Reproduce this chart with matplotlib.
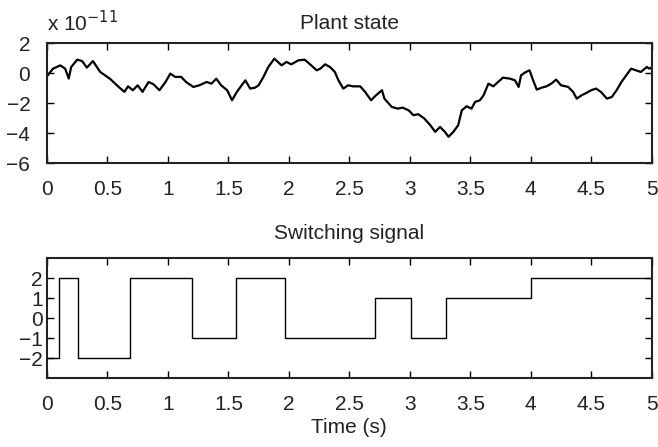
import matplotlib
matplotlib.use('Agg')
import matplotlib.pyplot as plt

plt.rcParams['font.family'] = ['Liberation Sans', 'DejaVu Sans']

# plant state (units of 1e-11)
t_state = [0.00, 0.05, 0.11, 0.15, 0.18, 0.20, 0.25, 0.29, 0.33, 0.38,
           0.44, 0.52, 0.60, 0.64, 0.67, 0.71, 0.75, 0.79, 0.84, 0.88,
           0.93, 0.98, 1.02, 1.06, 1.11, 1.15, 1.21, 1.26, 1.32, 1.36,
           1.40, 1.44, 1.49, 1.53, 1.57, 1.61, 1.64, 1.68, 1.72, 1.75,
           1.79, 1.83, 1.88, 1.94, 1.98, 2.02, 2.08, 2.13, 2.17, 2.23,
           2.26, 2.30, 2.34, 2.38, 2.41, 2.45, 2.49, 2.53, 2.59, 2.63,
           2.68, 2.72, 2.77, 2.79, 2.85, 2.90, 2.94, 2.99, 3.03, 3.07,
           3.12, 3.17, 3.21, 3.25, 3.29, 3.32, 3.36, 3.40, 3.43, 3.47,
           3.51, 3.54, 3.58, 3.61, 3.65, 3.69, 3.73, 3.77, 3.83, 3.87,
           3.90, 3.92, 3.96, 3.99, 4.02, 4.05, 4.09, 4.13, 4.17, 4.21,
           4.25, 4.31, 4.35, 4.38, 4.42, 4.46, 4.50, 4.54, 4.58, 4.63,
           4.67, 4.71, 4.75, 4.79, 4.83, 4.87, 4.91, 4.96, 4.98, 5.00]
x_state = [-0.20, 0.31, 0.53, 0.31, -0.35, 0.42, 0.91, 0.82, 0.38, 0.82,
           0.09, -0.36, -0.96, -1.24, -0.87, -1.13, -0.80, -1.24, -0.58, -0.73,
           -1.13, -0.58, -0.02, -0.24, -0.24, -0.58, -0.91, -0.80, -0.58, -0.69,
           -0.36, -0.80, -1.13, -1.80, -1.24, -0.80, -0.47, -1.02, -0.96, -0.80,
           -0.24, 0.42, 0.98, 0.53, 0.76, 0.60, 0.87, 0.91, 0.64, 0.20,
           0.31, 0.60, 0.42, 0.09, -0.47, -1.02, -0.80, -0.87, -0.87, -1.24,
           -1.80, -1.47, -1.13, -1.69, -2.24, -2.36, -2.29, -2.47, -2.80, -2.73,
           -3.02, -3.47, -3.91, -3.58, -3.91, -4.24, -3.91, -3.47, -2.47, -2.20,
           -2.36, -1.91, -1.80, -1.47, -0.69, -0.87, -0.58, -0.29, -0.36, -0.47,
           -0.91, -0.13, 0.09, 0.20, -0.47, -1.09, -0.96, -0.87, -0.69, -0.42,
           -0.80, -0.91, -1.24, -1.69, -1.47, -1.31, -1.13, -1.02, -1.24, -1.69,
           -1.58, -1.13, -0.58, -0.13, 0.31, 0.20, 0.09, 0.42, 0.31, 0.40]

# switching signal: switch times and mode values
t_switch = [0.0, 0.10, 0.26, 0.69, 1.20, 1.56, 1.97, 2.71, 3.01, 3.30, 4.00, 5.0]
mode = [-2, 2, -2, 2, -1, 2, -1, 1, -1, 1, 2, 2]

xt = [0, 0.5, 1, 1.5, 2, 2.5, 3, 3.5, 4, 4.5, 5]
xt_labels = ['0', '0.5', '1', '1.5', '2', '2.5', '3', '3.5', '4', '4.5', '5']

fig = plt.figure(figsize=(6.58, 4.47), dpi=100)
ax1 = fig.add_axes([0.0714, 0.635, 0.919, 0.268])
ax2 = fig.add_axes([0.0714, 0.154, 0.919, 0.268])

ax1.plot(t_state, x_state, color='black', lw=1.6)
ax1.set_xlim(0, 5)
ax1.set_ylim(-6, 2)
ax1.set_yticks([-6, -4, -2, 0, 2])
ax1.set_xticks(xt)
ax1.set_xticklabels(xt_labels)
ax1.set_title('Plant state', fontsize=15, pad=10, color='#222222')
ax1.text(0.0, 1.1, r'x 10$^{-11}$', transform=ax1.transAxes, fontsize=15,
         ha='left', va='baseline', color='#222222')

ax2.step(t_switch, mode, where='post', color='black', lw=1.0)
ax2.set_xlim(0, 5)
ax2.set_ylim(-3, 3)
ax2.set_yticks([-2, -1, 0, 1, 2])
ax2.set_xticks(xt)
ax2.set_xticklabels(xt_labels)
ax2.set_title('Switching signal', fontsize=15, pad=14, color='#222222')
ax2.set_xlabel('Time (s)', fontsize=15, labelpad=3, color='#222222')

for ax in (ax1, ax2):
    ax.tick_params(direction='in', top=True, right=True, length=5, width=1,
                   labelsize=15, labelcolor='#222222')
    ax.tick_params(axis='x', pad=12)
    for s in ax.spines.values():
        s.set_linewidth(1.5)
        s.set_color('#222222')
ax1.tick_params(axis='y', pad=12)
ax2.tick_params(axis='y', pad=3)

fig.savefig('out.png', dpi=100)
